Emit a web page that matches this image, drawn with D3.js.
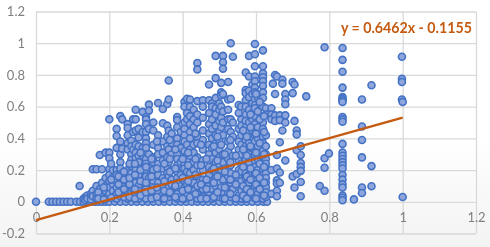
<!DOCTYPE html>
<html>
<head>
<meta charset="utf-8">
<script src="https://cdn.jsdelivr.net/npm/d3@7"></script>
<style>
html, body { margin: 0; padding: 0; background: #fff; overflow: hidden; }
svg { filter: blur(0.35px); }
</style>
</head>
<body>
<div id="chart"></div>
<script>
const xTicks = [0, 0.2, 0.4, 0.6, 0.8, 1, 1.2]
const yTicks = [-0.2, 0, 0.2, 0.4, 0.6, 0.8, 1, 1.2]
const trendX = [0, 1]
const trendY = [-0.1155, 0.5307]
const trendLabel = "y = 0.6462x - 0.1155"

// points on the zero line
const zeroX = [0, 0.035, 0.045, 0.055, 0.065, 0.075, 0.085, 0.095, 0.11, 0.12, 0.13, 0.14, 0.15, 0.16, 0.17, 0.18, 0.19, 0.2, 0.215, 0.23, 0.245, 0.26, 0.275, 0.29, 0.305, 0.32, 0.335, 0.35, 0.365, 0.38, 0.395, 0.41, 0.425, 0.44, 0.455, 0.47, 0.485, 0.5, 0.515, 0.53, 0.545, 0.56, 0.575, 0.59, 0.605, 0.62, 0.63]

// the rest, read column by column: one x, then its y values
const colX = [0.119, 0.13, 0.135, 0.14, 0.15, 0.155, 0.165, 0.174, 0.18, 0.19, 0.2, 0.21, 0.22, 0.23, 0.235, 0.25, 0.26, 0.265, 0.272, 0.28, 0.291, 0.3, 0.308, 0.32, 0.333, 0.346, 0.358, 0.362, 0.37, 0.385, 0.395, 0.405, 0.412, 0.42, 0.43, 0.44, 0.455, 0.472, 0.48, 0.49, 0.5, 0.505, 0.51, 0.524, 0.531, 0.537, 0.553, 0.56, 0.572, 0.581, 0.59, 0.597, 0.605, 0.619, 0.627, 0.642, 0.646, 0.652, 0.657, 0.665, 0.672, 0.68, 0.7, 0.705, 0.711, 0.722, 0.737, 0.774, 0.787, 0.799, 0.836, 0.867, 0.889, 0.915, 0.998, 1]
const colY = [
  [0.1],
  [0.02],
  [0.03, 0.01],
  [0.04, 0.02],
  [0.05, 0.03, 0.015],
  [0.205, 0.07, 0.035],
  [0.205, 0.1, 0.05, 0.02],
  [0.295, 0.08, 0.04],
  [0.205, 0.12, 0.06, 0.03],
  [0.31, 0.15, 0.1, 0.07, 0.02],
  [0.52, 0.31, 0.275, 0.205, 0.17, 0.13, 0.09, 0.05],
  [0.2, 0.155, 0.11, 0.07, 0.03],
  [0.46, 0.415, 0.34, 0.2, 0.17, 0.13, 0.09, 0.05, 0.02],
  [0.54, 0.38, 0.3, 0.25, 0.21, 0.15, 0.11, 0.07, 0.035],
  [0.52, 0.335, 0.18, 0.12],
  [0.49, 0.465, 0.42, 0.37, 0.33, 0.2, 0.16, 0.125, 0.09, 0.05, 0.02],
  [0.385, 0.35, 0.3, 0.265, 0.225, 0.18, 0.14, 0.1, 0.06, 0.03],
  [0.52, 0.44, 0.33, 0.24, 0.15, 0.08],
  [0.58, 0.52, 0.45, 0.36, 0.31, 0.275, 0.2, 0.12, 0.045],
  [0.46, 0.405, 0.35, 0.29, 0.25, 0.17, 0.1, 0.07, 0.02],
  [0.567, 0.44, 0.34, 0.29, 0.21, 0.13, 0.05],
  [0.535, 0.52, 0.49, 0.44, 0.4, 0.37, 0.32, 0.27, 0.24, 0.19, 0.16, 0.11, 0.08, 0.04, 0.02],
  [0.613, 0.575, 0.46, 0.3, 0.215, 0.15, 0.06],
  [0.5, 0.45, 0.36, 0.28, 0.25, 0.2, 0.13, 0.09, 0.03],
  [0.623, 0.42, 0.34, 0.3, 0.24, 0.17, 0.12, 0.06],
  [0.585, 0.495, 0.38, 0.31, 0.26, 0.21, 0.15, 0.1, 0.045, 0.02],
  [0.617, 0.48, 0.41, 0.35, 0.28, 0.22, 0.18, 0.13, 0.07],
  [0.765, 0.645, 0.45, 0.33, 0.25, 0.16, 0.09, 0.03],
  [0.43, 0.37, 0.3, 0.2, 0.14, 0.11, 0.05],
  [0.535, 0.515, 0.47, 0.4, 0.36, 0.3, 0.27, 0.23, 0.19, 0.15, 0.12, 0.08, 0.05, 0.02],
  [0.44, 0.34, 0.25, 0.17, 0.1, 0.03],
  [0.63, 0.6, 0.5, 0.46, 0.42, 0.38, 0.32, 0.28, 0.24, 0.21, 0.16, 0.13, 0.09, 0.06, 0.02],
  [0.65, 0.56, 0.52, 0.36, 0.26, 0.19, 0.11, 0.04],
  [0.645, 0.6, 0.54, 0.49, 0.44, 0.4, 0.33, 0.29, 0.22, 0.18, 0.14, 0.08, 0.03],
  [0.58, 0.52, 0.47, 0.36, 0.31, 0.25, 0.2, 0.12, 0.07],
  [0.875, 0.835, 0.635, 0.55, 0.5, 0.41, 0.37, 0.28, 0.23, 0.16, 0.1, 0.05, 0.02],
  [0.64, 0.6, 0.53, 0.45, 0.39, 0.33, 0.26, 0.2, 0.14, 0.08, 0.03],
  [0.74, 0.64, 0.56, 0.49, 0.43, 0.36, 0.3, 0.22, 0.17, 0.11, 0.06],
  [0.62, 0.6, 0.52, 0.46, 0.4, 0.34, 0.27, 0.2, 0.13, 0.08, 0.02],
  [0.92, 0.78, 0.655, 0.59, 0.55, 0.48, 0.42, 0.37, 0.31, 0.25, 0.19, 0.15, 0.1, 0.05],
  [0.62, 0.58, 0.51, 0.44, 0.39, 0.33, 0.28, 0.23, 0.17, 0.12, 0.07, 0.03],
  [0.75, 0.69, 0.67, 0.6, 0.53, 0.47, 0.36, 0.2, 0.09],
  [0.92, 0.88, 0.84, 0.68, 0.57, 0.5, 0.42, 0.3, 0.25, 0.14, 0.05, 0.02],
  [0.755, 0.645, 0.58, 0.52, 0.46, 0.38, 0.32, 0.27, 0.21, 0.16, 0.1, 0.06],
  [1, 0.65, 0.52, 0.44, 0.35, 0.23, 0.18, 0.12, 0.03],
  [0.915, 0.5, 0.41, 0.29, 0.14, 0.08],
  [0.61, 0.56, 0.46, 0.38, 0.33, 0.26, 0.2, 0.15, 0.09, 0.04],
  [0.6, 0.52, 0.48, 0.42, 0.36, 0.3, 0.24, 0.19, 0.13, 0.07, 0.02],
  [0.815, 0.705, 0.685, 0.64, 0.6, 0.55, 0.51, 0.47, 0.43, 0.39, 0.35, 0.31, 0.27, 0.23, 0.18, 0.15, 0.11, 0.06, 0.02],
  [0.92, 0.79, 0.7, 0.66, 0.58, 0.5, 0.44, 0.37, 0.3, 0.25, 0.17, 0.12, 0.04],
  [0.74, 0.68, 0.62, 0.56, 0.52, 0.45, 0.41, 0.34, 0.28, 0.21, 0.14, 0.08, 0.03],
  [0.995, 0.93, 0.855, 0.79, 0.76, 0.72, 0.69, 0.65, 0.61, 0.59, 0.54, 0.49, 0.46, 0.42, 0.38, 0.33, 0.29, 0.26, 0.22, 0.19, 0.16, 0.13, 0.09, 0.06, 0.03],
  [0.66, 0.57, 0.47, 0.4, 0.35, 0.27, 0.2, 0.11, 0.05],
  [0.955, 0.855, 0.81, 0.785, 0.76, 0.73, 0.69, 0.655, 0.6, 0.5, 0.46, 0.41, 0.37, 0.32, 0.28, 0.25, 0.2, 0.17, 0.13, 0.1, 0.05, 0.02],
  [0.59, 0.55, 0.42, 0.35, 0.3, 0.27, 0.24, 0.21, 0.18, 0.15, 0.12, 0.09, 0.06, 0.03],
  [0.59, 0.55, 0.52, 0.2, 0.05],
  [0.745],
  [0.8, 0.68, 0.545, 0.51],
  [0.79, 0.295, 0.21, 0.135, 0.115, 0.07, 0.035],
  [0.545, 0.515, 0.375, 0.185, 0.12],
  [0.77, 0.745, 0.45],
  [0.68, 0.645, 0.615, 0.545, 0.5, 0.26],
  [0.755, 0.685, 0.16],
  [0.74, 0.51, 0.09],
  [0.45, 0.425, 0.325, 0.175],
  [0.35, 0.295, 0.245, 0.22, 0.195, 0.125, 0.035],
  [0.665],
  [0.1],
  [0.975, 0.275, 0.215, 0.07],
  [0.305],
  [0.97, 0.895, 0.82, 0.72, 0.66, 0.65, 0.64, 0.63, 0.535, 0.52, 0.505, 0.365, 0.31, 0.29, 0.27, 0.25, 0.23, 0.21, 0.17, 0.14, 0.11, 0.09, 0.04, 0.025, 0.01],
  [0.015],
  [0.645, 0.475, 0.39, 0.28, 0.09, 0.055],
  [0.735, 0.225, 0.098],
  [0.915, 0.775, 0.755, 0.645],
  [0.63, 0.03]
]

// second pass over the packed lower part of the cloud
const packedX = [0.17, 0.185, 0.205, 0.225, 0.24, 0.255, 0.27, 0.285, 0.3, 0.315, 0.33, 0.35, 0.365, 0.38, 0.4, 0.415, 0.435, 0.45, 0.465, 0.485, 0.495, 0.515, 0.53, 0.545, 0.565, 0.575, 0.585, 0.6, 0.61, 0.622]
const packedY = [
  [0.06, 0.02],
  [0.09, 0.015],
  [0.14, 0.025, 0.24],
  [0.11, 0.06, 0.16],
  [0.14, 0.08, 0.19, 0.03],
  [0.24, 0.11, 0.15, 0.03],
  [0.17, 0.08, 0.02, 0.24],
  [0.2, 0.13, 0.04, 0.31],
  [0.12, 0.06, 0.22, 0.34],
  [0.16, 0.07, 0.02, 0.27],
  [0.21, 0.09, 0.03, 0.38],
  [0.24, 0.13, 0.07, 0.02],
  [0.19, 0.06, 0.27, 0.39],
  [0.1, 0.03, 0.21, 0.33],
  [0.15, 0.07, 0.02, 0.27],
  [0.23, 0.13, 0.08, 0.31],
  [0.17, 0.05, 0.27, 0.43],
  [0.11, 0.02, 0.23, 0.36],
  [0.14, 0.08, 0.02, 0.27],
  [0.21, 0.12, 0.03, 0.35],
  [0.16, 0.06, 0.26, 0.41],
  [0.19, 0.09, 0.02, 0.3],
  [0.14, 0.05, 0.25, 0.39],
  [0.17, 0.11, 0.02, 0.29],
  [0.22, 0.1, 0.04, 0.33, 0.45],
  [0.16, 0.08, 0.02, 0.29, 0.41],
  [0.21, 0.14, 0.06, 0.35, 0.47, 0.55],
  [0.18, 0.11, 0.02, 0.31, 0.43, 0.68],
  [0.15, 0.08, 0.24, 0.37, 0.52, 0.63],
  [0.22, 0.12, 0.04, 0.3, 0.44, 0.54]
]

const points = zeroX.map(x => [x, 0])
colX.forEach((x, i) => colY[i].forEach(y => points.push([x, y])))
packedX.forEach((x, i) => packedY[i].forEach(y => points.push([x, y])))

const width = 490, height = 247

const svg = d3.select("#chart")
    .append("svg")
    .attr("width", width)
    .attr("height", height)
    .style("display", "block")

// the picture fades very slightly to grey at the bottom
const grad = svg.append("defs").append("linearGradient")
    .attr("id", "bg")
    .attr("x1", 0).attr("y1", 0).attr("x2", 0).attr("y2", 1)
grad.append("stop").attr("offset", "0.55").attr("stop-color", "#ffffff")
grad.append("stop").attr("offset", "1").attr("stop-color", "#f3f3f3")
svg.append("rect")
    .attr("width", width)
    .attr("height", height)
    .attr("fill", "url(#bg)")

const x = d3.scaleLinear().domain([0, 1.2]).range([36, 476])
const y = d3.scaleLinear().domain([-0.2, 1.2]).range([233.5, 11.5])

const fmt = d => String(d)

// gridlines
svg.append("g")
    .attr("transform", "translate(0," + y(-0.2) + ")")
    .call(d3.axisBottom(x).tickValues(xTicks).tickSize(y(1.2) - y(-0.2)).tickFormat(""))
    .call(g => g.select(".domain").remove())
    .call(g => g.selectAll("line").attr("stroke", "#d9d9d9").attr("stroke-width", 1.3))

svg.append("g")
    .attr("transform", "translate(36,0)")
    .call(d3.axisLeft(y).tickValues(yTicks).tickSize(36 - x(1.2)).tickFormat(""))
    .call(g => g.select(".domain").remove())
    .call(g => g.selectAll("line").attr("stroke", "#d9d9d9").attr("stroke-width", 1.3))

// points
svg.append("g")
    .selectAll("circle")
    .data(points)
    .enter()
    .append("circle")
    .attr("cx", d => x(d[0]))
    .attr("cy", d => y(d[1]))
    .attr("r", 3.5)
    .attr("fill", "#8ea6dc")
    .attr("stroke", "#4472c4")
    .attr("stroke-width", 1.6)

// tick labels
svg.append("g")
    .attr("transform", "translate(0," + y(0) + ")")
    .call(d3.axisBottom(x).tickValues(xTicks).tickSize(0).tickPadding(11).tickFormat(fmt))
    .call(g => g.select(".domain").remove())
    .call(g => g.selectAll("text").attr("fill", "#7f7f7f").style("font", "13px Lato"))

svg.append("g")
    .attr("transform", "translate(36,0)")
    .call(d3.axisLeft(y).tickValues(yTicks).tickSize(0).tickPadding(11).tickFormat(fmt))
    .call(g => g.select(".domain").remove())
    .call(g => g.selectAll("text").attr("fill", "#7f7f7f").style("font", "13px Lato"))

// trendline
const trend = d3.line().x(d => x(d)).y((d, i) => y(trendY[i]))
svg.append("path")
    .attr("d", trend(trendX))
    .attr("fill", "none")
    .attr("stroke", "#c55a11")
    .attr("stroke-width", 2.4)

svg.append("text")
    .attr("x", 341)
    .attr("y", 32.5)
    .attr("fill", "#c55a11")
    .style("font", "bold 14.2px Lato")
    .text(trendLabel)
</script>
</body>
</html>
